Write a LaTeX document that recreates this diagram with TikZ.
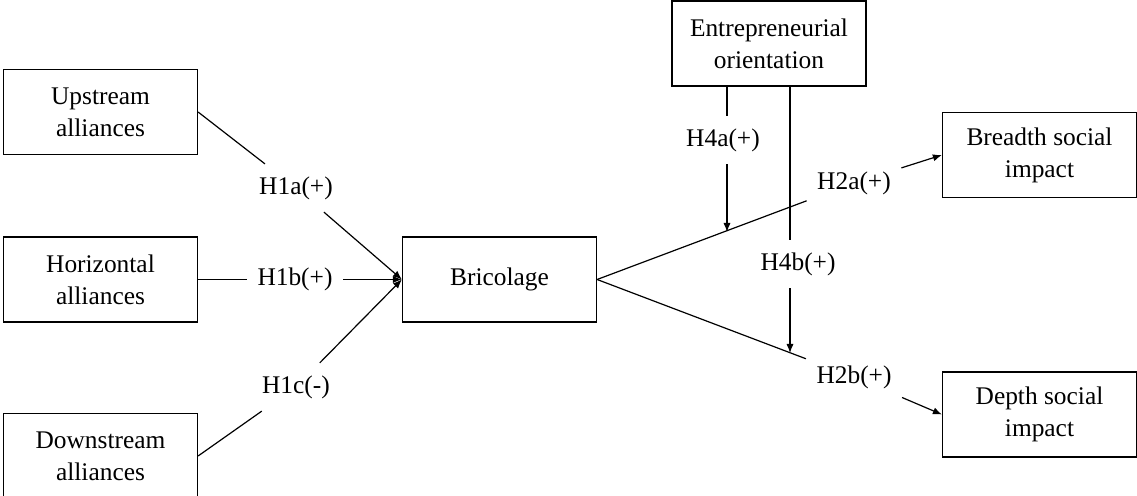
\documentclass[tikz,border=0pt]{standalone}
\usepackage{fontspec}
\setmainfont{Liberation Serif}
\usetikzlibrary{arrows.meta}

\begin{document}
\begin{tikzpicture}[x=0.5pt,y=-0.5pt,line width=0.6pt,
    every node/.style={font=\fontsize{12.7}{16}\selectfont},
    box/.style={draw,minimum width=97pt,minimum height=42.5pt,align=center,inner sep=0pt},
    hyp/.style={inner xsep=5pt,inner ysep=6pt},
    >={Latex[length=4.5pt,width=3.6pt]}]
                \useasboundingbox (0,0) rectangle (1137,496);

                % constructs
                \node[box] (up) at (100.5,112) {Upstream\\alliances};
                \node[box] (hor) at (100.5,279.5) {Horizontal\\alliances};
                \node[box] (down) at (100.5,456) {Downstream\\alliances};
                \node[box] (bric) at (499.5,279.5) {Bricolage};
                \node[box] (eo) at (769,43.5) {Entrepreneurial\\orientation};
                \node[box] (breadth) at (1039.5,155) {Breadth social\\impact};
                \node[box] (depth) at (1039.5,414.5) {Depth social\\impact};

                % hypotheses
                \node[hyp] (h1a) at (296,188) {H1a(+)};
                \node[hyp] (h1b) at (295,279.5) {H1b(+)};
                \node[hyp] (h1c) at (296,387) {H1c(-)};
                \node[hyp] (h2a) at (854,183) {H2a(+)};
                \node[hyp] (h2b) at (854,377) {H2b(+)};
                \node[hyp] (h4a) at (723,140) {H4a(+)};
                \node[hyp] (h4b) at (798,264) {H4b(+)};

                \coordinate (m1) at (727,232);
                \coordinate (m2) at (790,353);

                \draw[] (up.east) -- (h1a);
                \draw[->] (h1a) -- (bric.west);
                \draw[] (hor.east) -- (h1b);
                \draw[->] (h1b) -- (bric.west);
                \draw[] (down.east) -- (h1c);
                \draw[->] (h1c) -- (bric.west);

                \draw[] (bric.east) -- (h2a);
                \draw[->] (h2a) -- (breadth.west);
                \draw[] (bric.east) -- (h2b);
                \draw[->] (h2b) -- (depth.west);

                \draw[] (m1 |- eo.south) -- (m1 |- h4a.north);
                \draw[->] (m1 |- h4a.south) -- (m1);
                \draw[] (m2 |- eo.south) -- (m2 |- h4b.north);
                \draw[->] (m2 |- h4b.south) -- (m2);
\end{tikzpicture}
\end{document}
